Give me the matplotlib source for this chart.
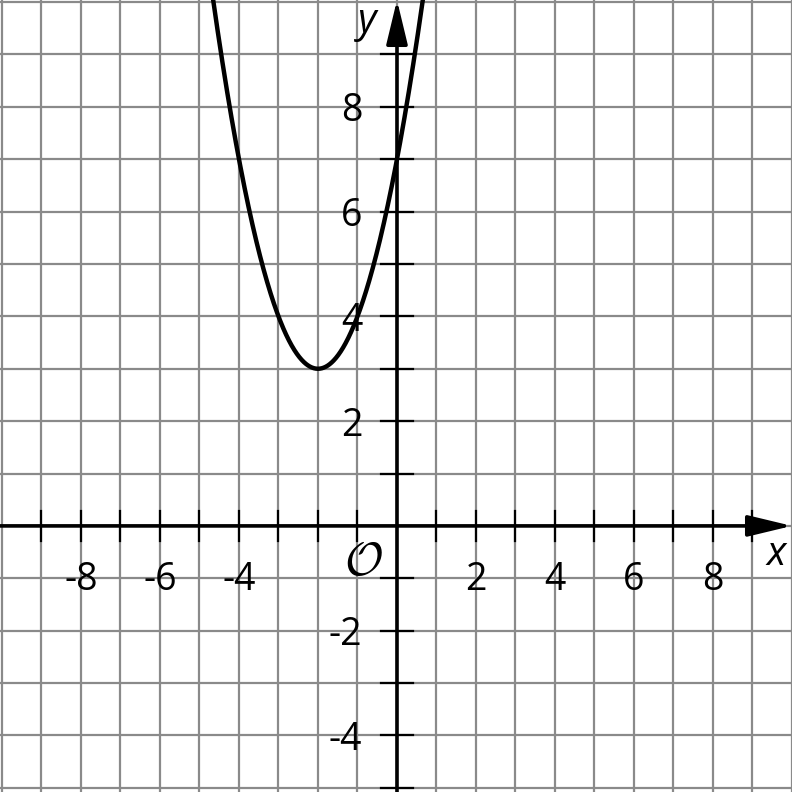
import numpy as np
import matplotlib
matplotlib.use("Agg")
import matplotlib.pyplot as plt

plt.rcParams['mathtext.fontset'] = 'cm'

# Data
x_min, x_max = -10, 10
y_min, y_max = -5, 10
x_tick_labels = [-8, -6, -4, 2, 4, 6, 8]
y_tick_labels = [8, 6, 4, 2, -2, -4]
# parabola y = a*(x - h)^2 + k
a, h, k = 1.0, -2.0, 3.0

fig = plt.figure(figsize=(7.92, 7.92), dpi=100)
ax = fig.add_axes([0, 0, 1, 1])
ax.set_xlim(x_min - 0.05, x_max)
ax.set_ylim(y_min - 0.08, y_max + 0.04)
ax.axis('off')

grid_color = '#8a8a8a'
for gx in range(x_min, x_max + 1):
    ax.plot([gx, gx], [y_min - 1, y_max + 1], color=grid_color, lw=1.6, zorder=1)
for gy in range(y_min, y_max + 1):
    ax.plot([x_min - 1, x_max + 1], [gy, gy], color=grid_color, lw=1.6, zorder=1)

# axes
astyle = '-|>,head_length=2.7,head_width=0.65'
ax.annotate('', xy=(x_max, 0), xytext=(x_min - 1, 0),
            arrowprops=dict(arrowstyle=astyle, color='black', lw=2.6,
                            shrinkA=0, shrinkB=0), zorder=3)
ax.annotate('', xy=(0, y_max + 0.04), xytext=(0, y_min - 1),
            arrowprops=dict(arrowstyle=astyle, color='black', lw=2.6,
                            shrinkA=0, shrinkB=0), zorder=3)

# ticks
for tx in range(x_min + 1, x_max):
    if tx != 0:
        ax.plot([tx, tx], [-0.28, 0.28], color='black', lw=1.6, zorder=3)
for ty in range(y_min, y_max):
    if ty != 0:
        ax.plot([-0.4, 0.4], [ty, ty], color='black', lw=1.6, zorder=3)

# curve
xs = np.linspace(-5, 1, 600)
ys = a * (xs - h) ** 2 + k
ax.plot(xs, ys, color='black', lw=3.2, zorder=4, solid_capstyle='butt')

font = 'Open Sans'
fs = 27
for tx in x_tick_labels:
    ax.text(tx, -0.95, str(tx), ha='center', va='center_baseline', fontsize=fs, family=font, zorder=5)
for ty in y_tick_labels:
    ax.text(-0.88, ty, str(ty), ha='right', va='center_baseline', fontsize=fs, family=font, zorder=5)

ax.text(-0.86, -0.69, r'$\mathcal{O}$', ha='center', va='center', fontsize=34, zorder=5)
ax.text(9.6, -0.55, 'x', ha='center', va='center', fontsize=29, family=font, style='italic', zorder=5)
ax.text(-0.75, 9.62, 'y', ha='center', va='center', fontsize=29, family=font, style='italic', zorder=5)

fig.savefig('out.png', dpi=100)
